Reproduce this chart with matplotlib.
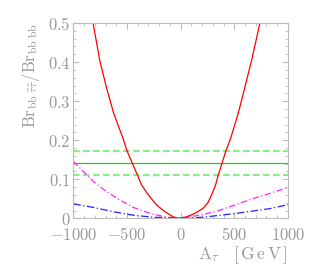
import numpy as np
import matplotlib
matplotlib.use("Agg")
from matplotlib import pyplot as plt
from matplotlib.ticker import MultipleLocator, FuncFormatter

plt.rcParams['mathtext.fontset'] = 'cm'
plt.rcParams['font.family'] = 'serif'

# values
red_x = [-816, -754, -693, -624, -537, -500, -453, -401, -363, -301, -223, -146, -68, -22,
         56, 134, 211, 258, 298, 325, 350, 388, 422, 466, 537, 600, 662, 739]
red_y = [0.5, 0.405, 0.337, 0.269, 0.205, 0.173, 0.143, 0.11, 0.085, 0.060, 0.034, 0.017, 0.004, 0.0,
         0.004, 0.013, 0.026, 0.042, 0.066, 0.085, 0.11, 0.143, 0.173, 0.205, 0.269, 0.337, 0.405, 0.5]

magenta_x = [-1000, -812, -688, -565, -440, -285, -130, 0, 211, 367, 522, 677, 832, 1000]
magenta_y = [0.146, 0.094, 0.068, 0.047, 0.028, 0.013, 0.003, 0.0, 0.010, 0.021, 0.036, 0.051, 0.064, 0.079]

blue_x = [-1000, -812, -626, -440, -254, 0, 211, 367, 522, 677, 832, 1000]
blue_y = [0.037, 0.028, 0.017, 0.008, 0.003, 0.0, 0.003, 0.008, 0.013, 0.019, 0.025, 0.035]

band_central = 0.143
band_upper = 0.173
band_lower = 0.110

grey = '#999999'

fig = plt.figure(figsize=(3.14, 2.66), dpi=100)
ax = fig.add_axes([0.2335, 0.179, 0.6835, 0.7345])

ax.axhline(band_central, color='#22cc22', lw=0.9)
ax.axhline(band_upper, color='#88ee88', lw=1.6, ls=(0, (3, 1.5)))
ax.axhline(band_lower, color='#88ee88', lw=1.6, ls=(0, (3, 1.5)))

ax.plot(magenta_x, magenta_y, color='#ff22ff', lw=0.9, ls=(0, (5, 2, 1, 2)))
ax.plot(blue_x, blue_y, color='#2222ff', lw=0.9, ls=(0, (6, 2, 1, 2)))
ax.plot(red_x, red_y, color='#ff0000', lw=0.9)

ax.set_xlim(-1000, 1000)
ax.set_ylim(0, 0.5)
ax.xaxis.set_major_locator(MultipleLocator(500))
ax.xaxis.set_minor_locator(MultipleLocator(100))
ax.yaxis.set_major_locator(MultipleLocator(0.1))
ax.yaxis.set_minor_locator(MultipleLocator(0.02))
ax.xaxis.set_major_formatter(FuncFormatter(lambda v, p: r'$%d$' % v))
ax.yaxis.set_major_formatter(FuncFormatter(lambda v, p: r'$%g$' % round(v, 2)))

for s in ax.spines.values():
    s.set_color('#bbbbbb')
ax.tick_params(which='both', direction='in', top=True, right=True, colors='#bbbbbb',
               labelcolor=grey, labelsize=12)
ax.tick_params(which='major', length=4)
ax.tick_params(which='minor', length=2)
ax.tick_params(axis='y', pad=2)
ax.tick_params(axis='x', pad=6.5)

ax.set_xlabel(r'$\mathrm{A}_\tau\ \ \ [\,\mathrm{G\,e\,V}\,]$', color=grey, fontsize=12.5, loc='right', labelpad=0)
ax.set_ylabel(r'$\mathrm{Br}_{\mathrm{bb}\ \tilde{\tau}\tilde{\tau}}/\mathrm{Br}_{\mathrm{bb\ bb}}$',
              color=grey, fontsize=12, loc='top', labelpad=4)

fig.savefig('out.png', dpi=100)
